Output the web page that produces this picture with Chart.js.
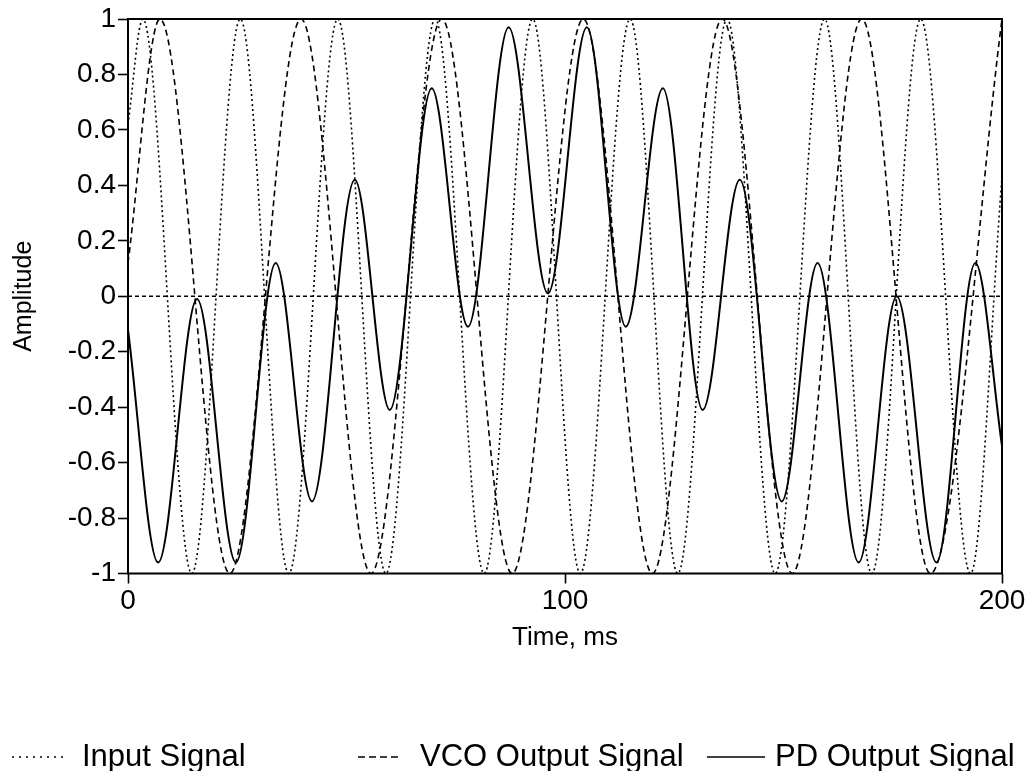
<!DOCTYPE html>
<html>
<head>
<meta charset="utf-8">
<script src="https://cdn.jsdelivr.net/npm/chart.js@4.4.1/dist/chart.umd.min.js"></script>
<style>
  html, body { margin: 0; padding: 0; background: #fff; }
  #wrap { width: 1031px; height: 771px; }
</style>
</head>
<body>
<div id="wrap"><canvas id="pll"></canvas></div>
<script>
// Input signal (dotted): start, peaks/troughs, end -- time in ms
const inputTimes  = [0, 3.4, 14.6, 25.7, 36.8, 48.0, 59.0, 70.3, 81.5, 92.6, 103.5, 114.9, 125.8, 137.1, 148.1, 159.4, 170.2, 181.4, 192.8, 200];
const inputValues = [0.62, 1, -1, 1, -1, 1, -1, 1, -1, 1, -1, 1, -1, 1, -1, 1, -1, 1, -1, 0.43];

// VCO output (dashed)
const vcoTimes  = [0, 7.3, 23.3, 39.6, 55.6, 71.8, 87.9, 104.2, 120.0, 136.0, 152.0, 167.9, 183.6, 200];
const vcoValues = [0.12, 1, -1, 1, -1, 1, -1, 1, -1, 1, -1, 1, -1, 1];

// Phase detector output (solid)
const pdTimes  = [0, 6.9, 15.8, 24.7, 33.8, 42.1, 51.9, 59.9, 69.5, 77.8, 87.1, 96.1, 105.0, 113.9, 122.4, 131.5, 140.0, 149.6, 157.8, 167.2, 175.9, 185.0, 193.9, 200];
const pdValues = [-0.12, -0.96, -0.01, -0.96, 0.12, -0.74, 0.42, -0.41, 0.75, -0.11, 0.97, 0.01, 0.97, -0.11, 0.75, -0.41, 0.42, -0.74, 0.12, -0.96, 0.0, -0.96, 0.12, -0.54];

const seriesNames = ['Input Signal', 'VCO Output Signal', 'PD Output Signal'];

const FONT = "'Liberation Sans', Arial, sans-serif";

function toPoints(times, values) {
    return times.map((t, i) => ({ x: t, y: values[i] }));
}

function makeSet(label, times, values, dash, width) {
    return {
        label: label,
        data: toPoints(times, values),
        borderColor: '#000',
        borderWidth: width,
        borderDash: dash,
        pointRadius: 0,
        cubicInterpolationMode: 'monotone',
        clip: 3
    };
}

// zero line, box round the plot, and the legend underneath
const decor = {
    id: 'decor',
    beforeDatasetsDraw(chart) {
        const ctx = chart.ctx;
        const area = chart.chartArea;
        const y0 = chart.scales.y.getPixelForValue(0);
        ctx.save();
        ctx.strokeStyle = '#000';
        ctx.lineWidth = 1.3;
        ctx.setLineDash([4, 3]);
        ctx.beginPath();
        ctx.moveTo(area.left, y0);
        ctx.lineTo(area.right, y0);
        ctx.stroke();
        ctx.restore();
    },
    afterDraw(chart) {
        const ctx = chart.ctx;
        const area = chart.chartArea;
        ctx.save();
        ctx.strokeStyle = '#000';
        ctx.lineWidth = 2;
        ctx.setLineDash([]);
        ctx.strokeRect(area.left, area.top, area.right - area.left, area.bottom - area.top);

        // legend
        const slots = [
            { x1: 12, x2: 67, tx: 82, dash: [2, 5] },
            { x1: 358, x2: 402, tx: 420, dash: [7, 4] },
            { x1: 707, x2: 765, tx: 775, dash: [] }
        ];
        const ly = 757;
        ctx.font = '31px ' + FONT;
        ctx.fillStyle = '#000';
        ctx.textBaseline = 'middle';
        ctx.textAlign = 'left';
        slots.forEach((s, i) => {
            ctx.lineWidth = 1.6;
            ctx.setLineDash(s.dash);
            ctx.beginPath();
            ctx.moveTo(s.x1, ly);
            ctx.lineTo(s.x2, ly);
            ctx.stroke();
            ctx.fillText(chart.data.datasets[i].label, s.tx, ly);
        });
        ctx.restore();
    }
};

new Chart(document.getElementById('pll'), {
    type: 'line',
    data: {
        datasets: [
            makeSet(seriesNames[0], inputTimes, inputValues, [2, 3], 1.6),
            makeSet(seriesNames[1], vcoTimes, vcoValues, [6, 4], 1.6),
            makeSet(seriesNames[2], pdTimes, pdValues, [], 2)
        ]
    },
    options: {
        responsive: true,
        maintainAspectRatio: false,
        animation: false,
        events: [],
        layout: { padding: { top: 19, right: 29, bottom: 0, left: 0 } },
        plugins: { legend: { display: false }, tooltip: { enabled: false } },
        scales: {
            x: {
                type: 'linear',
                min: 0,
                max: 200,
                ticks: { stepSize: 100, color: '#000', padding: 1, font: { family: FONT, size: 28 } },
                grid: { drawOnChartArea: false, drawTicks: true, tickLength: 10, tickColor: '#000', tickWidth: 1.6 },
                border: { display: false },
                title: { display: true, text: 'Time, ms', color: '#000', font: { family: FONT, size: 26 }, padding: { top: 0, bottom: 118 } },
                afterFit(scale) { scale.height = 197.5; }
            },
            y: {
                min: -1,
                max: 1,
                ticks: {
                    stepSize: 0.2,
                    color: '#000',
                    padding: 2,
                    font: { family: FONT, size: 28 },
                    callback: v => String(Math.round(v * 10) / 10)
                },
                grid: { drawOnChartArea: false, drawTicks: true, tickLength: 10, tickColor: '#000', tickWidth: 1.6 },
                border: { display: false },
                title: { display: true, text: 'Amplitude', color: '#000', font: { family: FONT, size: 25 }, padding: { top: 9, bottom: 0 } },
                afterFit(scale) { scale.width = 128; }
            }
        }
    },
    plugins: [decor]
});
</script>
</body>
</html>
